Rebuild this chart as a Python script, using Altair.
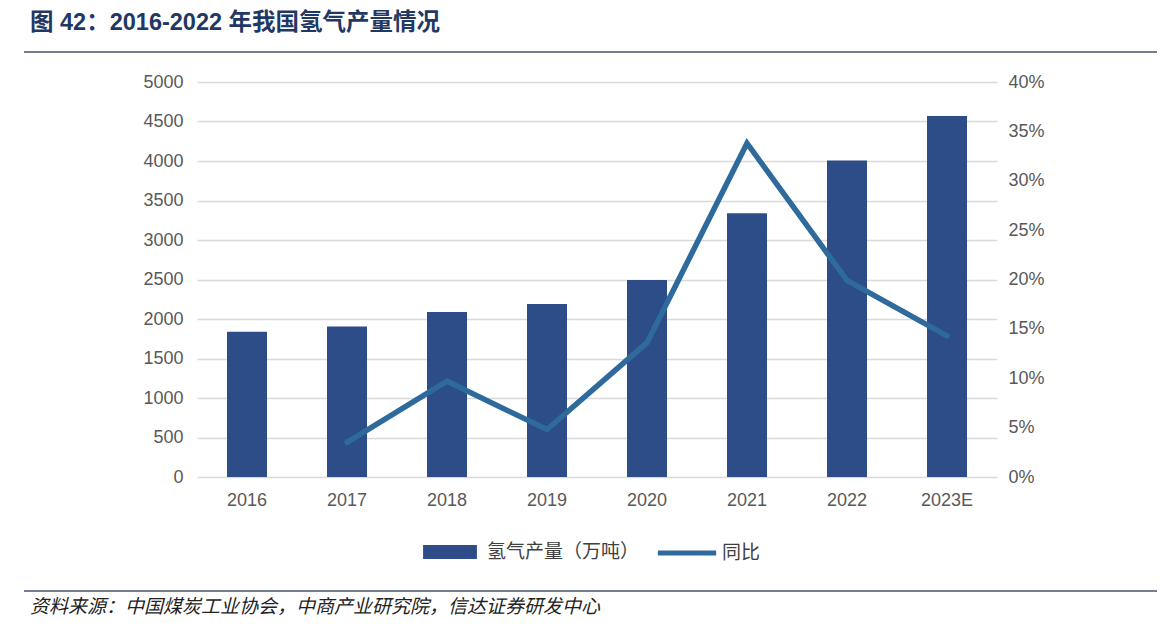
import altair as alt
import pandas as pd

years = ["2016", "2017", "2018", "2019", "2020", "2021", "2022", "2023E"]
output = [1840, 1905, 2090, 2190, 2495, 3340, 4005, 4570]
yoy = [None, 0.035, 0.097, 0.048, 0.136, 0.338, 0.199, 0.143]

title_text = "图 42：2016-2022 年我国氢气产量情况"
source_text = "资料来源：中国煤炭工业协会，中商产业研究院，信达证券研发中心"
bar_name = "氢气产量（万吨）"
line_name = "同比"

BAR = "#2C4D87"
LINE = "#2E6A9B"
LAB = "#595959"
FONT = "Liberation Sans, Arial, Noto Sans CJK SC"
CJK = "Noto Sans CJK SC"

df = pd.DataFrame({"year": years, "output": output, "yoy": yoy,
                   "bs": [bar_name] * len(years), "ls": [line_name] * len(years)})

xenc = alt.X("year:N", sort=None, title=None,
             scale=alt.Scale(paddingInner=0.6, paddingOuter=0.3),
             axis=alt.Axis(labelFont=FONT, labelFontSize=18, labelColor=LAB,
                           labelPadding=14, ticks=False, domain=False, labelAngle=0))

bars = alt.Chart(df).mark_bar().encode(
    x=xenc,
    y=alt.Y("output:Q", title=None,
            scale=alt.Scale(domain=[0, 5000], nice=False),
            axis=alt.Axis(values=list(range(0, 5001, 500)), format="d", labelFont=FONT,
                          labelFontSize=18, labelColor=LAB, ticks=False, domain=False,
                          labelPadding=14, gridColor="#D9D9D9", gridWidth=1.3)),
    color=alt.Color("bs:N", scale=alt.Scale(domain=[bar_name], range=[BAR]),
                    legend=alt.Legend(orient="none", legendX=226, legendY=443, title=None,
                                      labelFont=CJK, labelFontSize=19, labelColor="#404040",
                                      symbolType="M-1,-0.26H1V0.26H-1Z", symbolSize=2900,
                                      symbolStrokeWidth=0, padding=0, labelOffset=10)),
)

line = alt.Chart(df).transform_filter("datum.yoy != null").mark_line(
    strokeWidth=5.5, strokeCap="round").encode(
    x=alt.X("year:N", sort=years),
    y=alt.Y("yoy:Q", title=None,
            scale=alt.Scale(domain=[0, 0.4], nice=False),
            axis=alt.Axis(orient="right", values=[i * 0.05 for i in range(9)], format=".0%",
                          labelFont=FONT, labelFontSize=18, labelColor=LAB, ticks=False,
                          domain=False, grid=False, labelPadding=11)),
    stroke=alt.Stroke("ls:N", scale=alt.Scale(domain=[line_name], range=[LINE]),
                      legend=alt.Legend(orient="none", legendX=458, legendY=439, title=None,
                                        labelFont=CJK, labelFontSize=19, labelColor="#404040",
                                        symbolType="stroke", symbolSize=3400,
                                        symbolStrokeWidth=5, padding=0, labelOffset=3)),
)

tdf = pd.DataFrame({"t": [title_text]})
title = alt.Chart(tdf).mark_text(align="left", baseline="middle", font=FONT, fontSize=23.5,
                                 fontWeight="bold", color="#1F3864").encode(
    text="t:N", x=alt.value(-167), y=alt.value(-59))

sdf = pd.DataFrame({"t": [source_text]})
source = alt.Chart(sdf).mark_text(align="left", baseline="middle", font=CJK, fontSize=19,
                                  fontStyle="italic", color="#222222").encode(
    text="t:N", x=alt.value(-167), y=alt.value(525))

rule1 = alt.Chart(tdf).mark_rule(color="#44546A", strokeWidth=1.5).encode(
    x=alt.value(-173), x2=alt.value(963), y=alt.value(-30))
rule2 = alt.Chart(tdf).mark_rule(color="#44546A", strokeWidth=1.5).encode(
    x=alt.value(-173), x2=alt.value(963), y=alt.value(509))

chart = alt.layer(bars, line, title, source, rule1, rule2).resolve_scale(
    y="independent", color="independent", stroke="independent"
).properties(
    width=800, height=395,
    autosize=alt.AutoSizeParams(type="none"),
    padding={"left": 189, "top": 74, "right": 160, "bottom": 150},
).configure_view(stroke=None)

chart.save("out.html", embed_options={"renderer": "svg", "actions": False})
